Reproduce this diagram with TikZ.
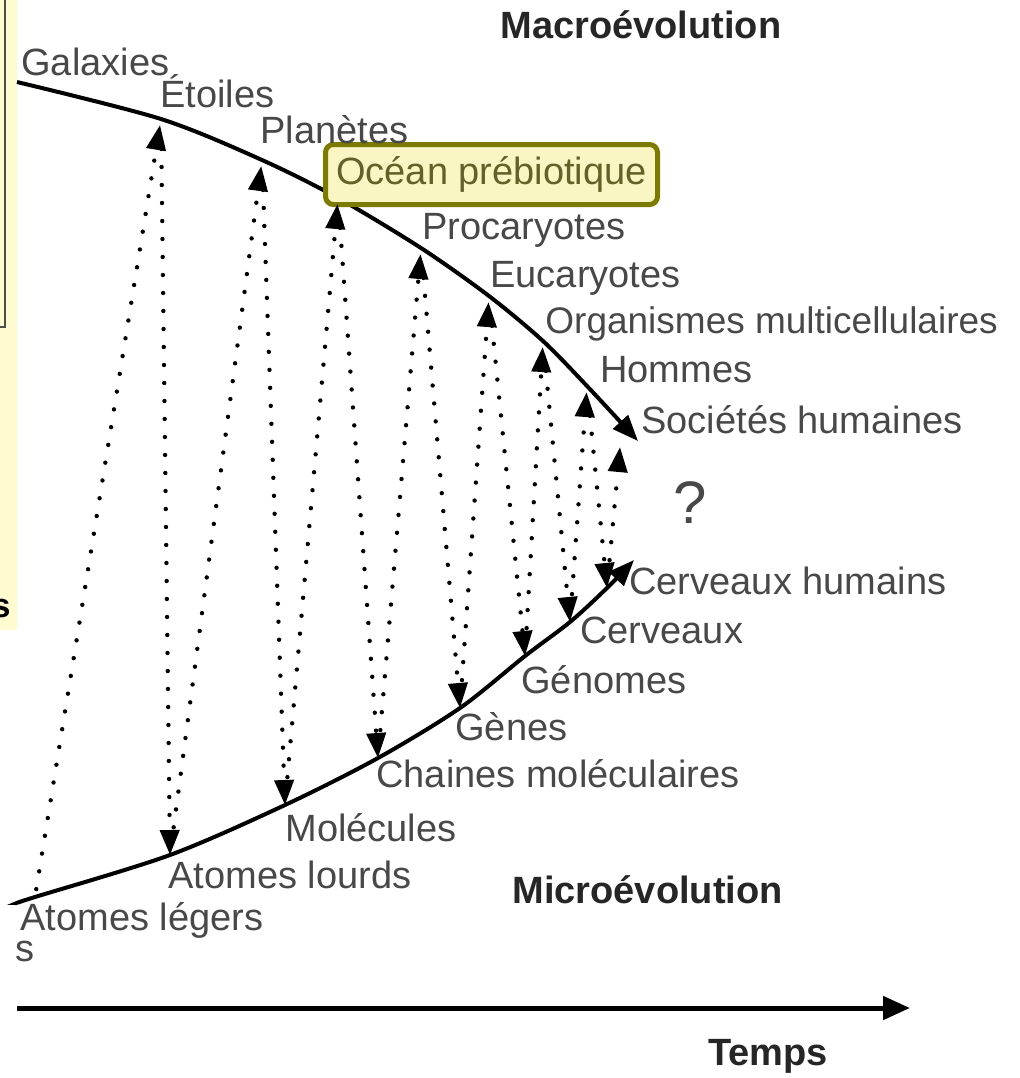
\documentclass[tikz,border=0pt]{standalone}
\usepackage{fontspec}
\setmainfont{Liberation Sans}
\usetikzlibrary{arrows.meta}
\definecolor{labelgray}{RGB}{72,72,72}
\definecolor{stripyellow}{RGB}{255,251,208}
\definecolor{boxolive}{RGB}{125,122,0}
\definecolor{boxfill}{RGB}{250,246,196}
\definecolor{boxtext}{RGB}{98,98,40}

\begin{document}
\begin{tikzpicture}[x=0.5pt,y=-0.5pt,
    lbl/.style={anchor=base west, inner sep=0pt, text=labelgray, font=\fontsize{19}{22}\selectfont},
    title/.style={anchor=base west, inner sep=0pt, text=black!85, font=\fontsize{19}{22}\selectfont\bfseries},
    oceanbox/.style={draw=boxolive, line width=2.5pt, fill=boxfill, rounded corners=4pt, text=boxtext,
        font=\fontsize{19}{22}\selectfont, inner sep=0pt, minimum width=166pt, minimum height=30pt},
    curve/.style={line width=2pt, -{Triangle[length=13pt,width=10pt]}},
    link/.style={line width=2.2pt, line cap=round, dash pattern=on 0pt off 9pt, -{Triangle[length=12.5pt,width=9.5pt]}},
    uplink/.style={link, shorten <=14pt, shorten >=3pt},
    downlink/.style={link, shorten <=15pt}]
    \useasboundingbox (0,0) rectangle (1020,1078);
    \fill[stripyellow] (0,0) rectangle (17,630);
    \draw[line width=1pt, black!70] (0,327) -- (5,327) -- (5,0);

    \coordinate (gal) at (17,82);
    \coordinate (eto) at (161,119);
    \coordinate (pla) at (262,160);
    \coordinate (oce) at (338,198);
    \coordinate (pro) at (421,248);
    \coordinate (euc) at (489,296);
    \coordinate (org) at (543,341);
    \coordinate (hom) at (587,386);
    \coordinate (soc) at (638,441);
    \coordinate (socj) at (620,447);

    \coordinate (start) at (17,903);
    \coordinate (leg) at (35,897);
    \coordinate (lou) at (170,855);
    \coordinate (mol) at (285,805);
    \coordinate (cha) at (378,758);
    \coordinate (gen) at (460,708);
    \coordinate (geo) at (525,656);
    \coordinate (cer) at (570,622);
    \coordinate (hum) at (607,588);
    \coordinate (end) at (634,560);

    \draw[curve] plot[smooth] coordinates {(gal) (eto) (pla) (oce) (pro) (euc) (org) (hom) (soc)};
    \draw[curve] plot[smooth] coordinates {(start) (leg) (lou) (mol) (cha) (gen) (geo) (cer) (hum) (end)};

    \node[oceanbox] (oce-l) at (491.5,174.5) {Océan prébiotique};

    \draw[uplink, shorten <=4pt] (leg) -- (eto);
    \foreach \a/\b in {lou/pla, mol/oce, cha/pro, gen/euc, geo/org, cer/hom}
        \draw[uplink] (\a) -- (\b);
    \draw[uplink, shorten >=0pt] (hum) -- (socj);
    \foreach \a/\b in {eto/lou, pla/mol, oce/cha, pro/gen, euc/geo, org/cer, hom/hum}
        \draw[downlink] (\a) -- (\b);

    \coordinate (t0) at (17,1008);
    \coordinate (t1) at (910,1008);
    \draw[line width=2.5pt, -{Triangle[length=13.5pt,width=11.5pt]}] (t0) -- (t1);

    \node[title] (macro) at (500,38) {Macroévolution};
    \node[title] (micro) at (512,903) {Microévolution};
    \node[title] (temps) at (708,1065) {Temps};

    \node[lbl] (gal-l) at (21,75) {Galaxies};
    \node[lbl] (eto-l) at (160,107) {Étoiles};
    \node[lbl] (pla-l) at (260,143) {Planètes};
    \node[lbl] (pro-l) at (422,239) {Procaryotes};
    \node[lbl] (euc-l) at (490,287) {Eucaryotes};
    \node[lbl, font=\fontsize{18.5}{22}\selectfont] (org-l) at (545,333) {Organismes multicellulaires};
    \node[lbl] (hom-l) at (600,382) {Hommes};
    \node[lbl] (soc-l) at (641,433) {Sociétés humaines};
    \node[lbl, font=\fontsize{30}{34}\selectfont] (quest) at (673,523) {?};
    \node[lbl] (hum-l) at (629,594) {Cerveaux humains};
    \node[lbl] (cer-l) at (580,643) {Cerveaux};
    \node[lbl] (geo-l) at (521,693) {Génomes};
    \node[lbl] (gen-l) at (455,740) {Gènes};
    \node[lbl] (cha-l) at (376,787) {Chaines moléculaires};
    \node[lbl] (mol-l) at (285,841) {Molécules};
    \node[lbl] (lou-l) at (168,888) {Atomes lourds};
    \node[lbl] (leg-l) at (20,930) {Atomes légers};
    \node[lbl] (frag-s) at (15,961) {s};
    \node[anchor=base east, inner sep=0pt, font=\fontsize{17}{20}\selectfont\bfseries] (frag-b) at (11,617) {s};
\end{tikzpicture}
\end{document}
